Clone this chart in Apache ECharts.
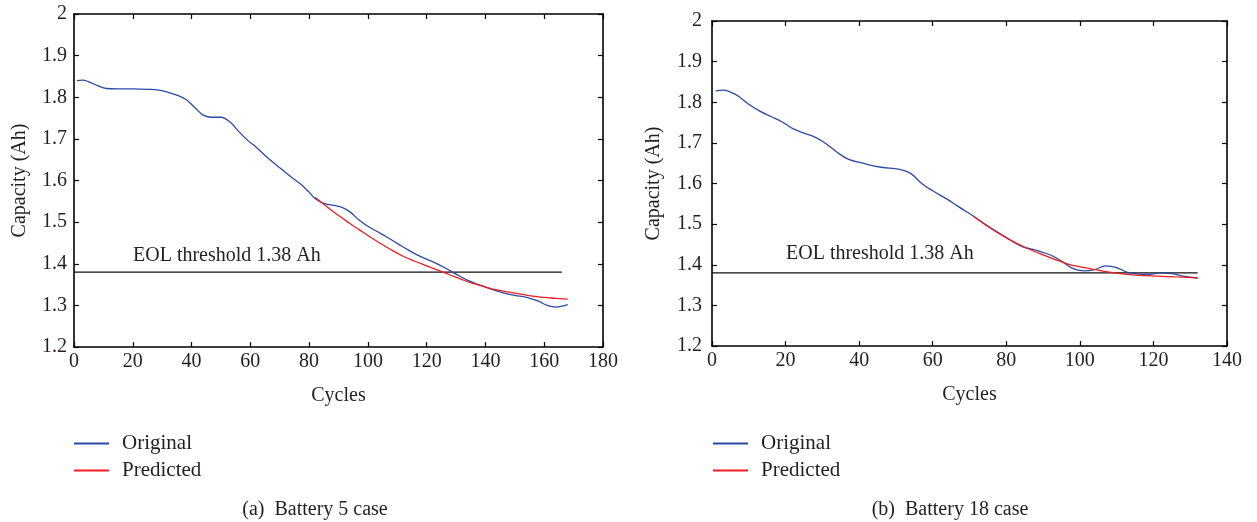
<!DOCTYPE html>
<html><head><meta charset="utf-8">
<script src="https://cdn.jsdelivr.net/npm/echarts@6/dist/echarts.min.js"></script>
<style>html,body{margin:0;padding:0;background:#fff}#c{width:1257px;height:522px}</style>
</head><body><div id="c"></div>
<script>
// Battery 5
const b5OrigCycles = [1,3,5,8,11,15,20,25,29,32,35,38,41,44,47,50,53,56,59,62,65,68,71,74,77,80,82,85,88,91,94,97,100,103,106,110,114,118,122,126,130,134,138,142,146,150,154,158,161,164,166,168];
const b5Original   = [1.840,1.841,1.837,1.828,1.821,1.820,1.820,1.819,1.817,1.812,1.805,1.795,1.776,1.757,1.752,1.752,1.741,1.718,1.697,1.680,1.660,1.642,1.625,1.608,1.592,1.572,1.557,1.545,1.541,1.536,1.524,1.505,1.490,1.478,1.466,1.449,1.432,1.417,1.405,1.391,1.375,1.360,1.349,1.339,1.330,1.324,1.319,1.310,1.300,1.296,1.298,1.302];
const b5PredCycles = [82,85,88,91,94,97,100,104,108,112,116,120,124,128,132,136,140,144,148,152,156,160,164,168];
const b5Predicted  = [1.560,1.543,1.526,1.511,1.496,1.482,1.468,1.450,1.433,1.418,1.406,1.395,1.384,1.373,1.362,1.352,1.344,1.337,1.332,1.327,1.322,1.319,1.317,1.315];
const b5EolCycles  = [0,166];
// Battery 18
const b18OrigCycles = [1,3,5,7,10,13,16,19,22,25,28,31,34,37,41,46,51,54,57,60,64,67,71,75,80,84,88,92,95,98,101,104,107,110,113,116,119,122,125,128,132];
const b18Original   = [1.828,1.830,1.825,1.816,1.795,1.778,1.765,1.752,1.735,1.724,1.714,1.698,1.677,1.660,1.650,1.640,1.635,1.625,1.600,1.582,1.561,1.543,1.520,1.495,1.467,1.446,1.436,1.424,1.409,1.391,1.385,1.388,1.397,1.393,1.381,1.377,1.376,1.380,1.378,1.372,1.367];
const b18PredCycles = [71,75,80,85,89,93,97,100,103,107,111,116,121,126,132];
const b18Predicted  = [1.520,1.494,1.466,1.443,1.428,1.414,1.401,1.395,1.390,1.383,1.378,1.374,1.372,1.370,1.368];
const b18EolCycles  = [0,132];
const eolValue = 1.38;
const yTicks = {min:1.2, max:2, interval:0.1};
const xLeft = {min:0, max:180, interval:20};
const xRight = {min:0, max:140, interval:20};
const captions = ['(a)  Battery 5 case','(b)  Battery 18 case'];
const eolText = 'EOL threshold 1.38 Ah';

const FONT = 'Liberation Serif';
const TXT = '#231f20';
const BLUE = '#2b4aa6';
const RED = '#ee1d23';
const zip = (a,b)=>a.map((x,i)=>[x,b[i]]);

function xAx(grid, r, pos){
  const main = pos==='bottom';
  return {type:'value', gridIndex:grid, position:pos, min:r.min, max:r.max, interval:r.interval,
    name: main?'Cycles':'', nameLocation:'middle', nameGap:39,
    nameTextStyle:{fontFamily:FONT, fontSize:20, color:TXT},
    axisLine:{show:true, onZero:false, lineStyle:{color:'#000', width:1.6}},
    axisTick:{show:true, inside:true, length:5, lineStyle:{color:'#000', width:1.2}},
    axisLabel:{show:main, margin:5, fontFamily:FONT, fontSize:20, color:TXT},
    splitLine:{show:false}};
}
function yAx(grid, pos, gap, margin){
  const main = pos==='left';
  return {type:'value', gridIndex:grid, position:pos, min:yTicks.min, max:yTicks.max, interval:yTicks.interval,
    name: main?'Capacity (Ah)':'', nameLocation:'middle', nameGap:gap,
    nameTextStyle:{fontFamily:FONT, fontSize:20, color:TXT},
    axisLine:{show:true, onZero:false, lineStyle:{color:'#000', width:1.6}},
    axisTick:{show:true, inside:true, length:5, lineStyle:{color:'#000', width:1.2}},
    axisLabel:{show:main, margin:margin, fontFamily:FONT, fontSize:20, color:TXT,
      formatter:v=>(Math.round(v*10)/10).toString()},
    splitLine:{show:false}};
}
function line(name, data, xi, yi, color, z){
  return {name, type:'line', xAxisIndex:xi, yAxisIndex:yi, data, smooth:0.4, symbol:'none',
    lineStyle:{color, width:1.3}, itemStyle:{color}, z, animation:false};
}
function eol(data, xi, yi){
  return {type:'line', xAxisIndex:xi, yAxisIndex:yi, data, symbol:'none', silent:true,
    lineStyle:{color:'#111', width:1.4}, z:1, animation:false};
}
function legend(left){
  return {orient:'vertical', left, top:433, padding:0, data:['Original','Predicted'], icon:'rect',
    itemWidth:35, itemHeight:2, itemGap:6, selectedMode:false,
    textStyle:{fontFamily:FONT, fontSize:21, color:TXT, lineHeight:21, padding:[0,0,0,8]}};
}

const option = {
  backgroundColor:'#fff',
  animation:false,
  grid:[{left:74, top:14, width:529, height:333},{left:712, top:21, width:515, height:325}],
  xAxis:[xAx(0,xLeft,'bottom'), xAx(0,xLeft,'top'), xAx(1,xRight,'bottom'), xAx(1,xRight,'top')],
  yAxis:[yAx(0,'left',44,7), yAx(0,'right',0,7), yAx(1,'left',48,10), yAx(1,'right',0,10)],
  legend:[legend(74), legend(713)],
  series:[
    eol(b5EolCycles.map(c=>[c,eolValue]),0,0),
    line('Original', zip(b5OrigCycles,b5Original),0,0,BLUE,3),
    line('Predicted', zip(b5PredCycles,b5Predicted),0,0,RED,4),
    eol(b18EolCycles.map(c=>[c,eolValue]),2,2),
    line('Original', zip(b18OrigCycles,b18Original),2,2,BLUE,3),
    line('Predicted', zip(b18PredCycles,b18Predicted),2,2,RED,4)
  ],
  graphic:[
    {type:'text', left:133, top:246, style:{text:eolText, font:'20px "Liberation Serif"', fill:TXT}},
    {type:'text', left:786, top:244, style:{text:eolText, font:'20px "Liberation Serif"', fill:TXT}},
    {type:'text', x:315, y:510, style:{text:captions[0], font:'20px "Liberation Serif"', fill:TXT, align:'center', verticalAlign:'middle'}},
    {type:'text', x:950, y:510, style:{text:captions[1], font:'20px "Liberation Serif"', fill:TXT, align:'center', verticalAlign:'middle'}}
  ]
};
const chart = echarts.init(document.getElementById('c'), null, {renderer:'canvas'});
chart.setOption(option);
</script></body></html>
